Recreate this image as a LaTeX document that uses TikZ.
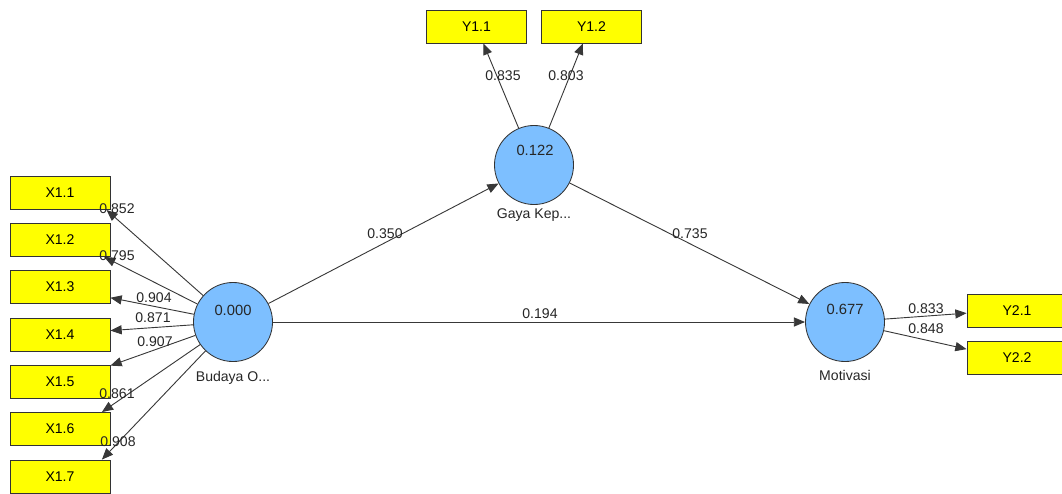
\documentclass[tikz,border=0pt]{standalone}
\usepackage{fontspec}
\setmainfont{Liberation Sans}
\usetikzlibrary{arrows.meta}
\definecolor{lvblue}{RGB}{125,191,255}
\definecolor{mvyellow}{RGB}{255,255,0}

\tikzset{
  mvbox/.style={draw=black!80, line width=0.6pt, fill=mvyellow, minimum width=2.5cm, minimum height=0.825cm, inner sep=0pt, font=\fontsize{10}{12}\selectfont},
  lvcirc/.style={circle, draw=black!80, line width=0.6pt, fill=lvblue, minimum size=1.975cm, inner sep=0pt},
  arr/.style={draw=black!78, line width=0.65pt, -{Triangle[length=8pt,width=6.5pt]}},
  val/.style={font=\fontsize{10}{12}\selectfont, text=black!85, inner sep=0pt},
  r2val/.style={font=\fontsize{10.5}{12}\selectfont, text=black!85, inner sep=0pt},
}

\begin{document}
\begin{tikzpicture}[x=0.025cm, y=-0.025cm]
\clip (0,0) rectangle (1062,493);

% latent variables
\node[lvcirc] (budaya) at (233,322) {};
\node[lvcirc] (gaya) at (534,165) {};
\node[lvcirc] (motivasi) at (845,322) {};

\node[r2val] (r2budaya) at (233,310) {0.000};
\node[r2val] (r2gaya) at (535,150) {0.122};
\node[r2val] (r2motivasi) at (845,309) {0.677};

\node[val] (nbudaya) at (233,378) {Budaya O...};
\node[val] (ngaya) at (534,215) {Gaya Kep...};
\node[val] (nmotivasi) at (845,375) {Motivasi};

% indicators
\node[mvbox] (x11) at (60,193) {X1.1};
\node[mvbox] (x12) at (60,240) {X1.2};
\node[mvbox] (x13) at (60,287) {X1.3};
\node[mvbox] (x14) at (60,335) {X1.4};
\node[mvbox] (x15) at (60,382) {X1.5};
\node[mvbox] (x16) at (60,429) {X1.6};
\node[mvbox] (x17) at (60,476.5) {X1.7};

\node[mvbox] (y11) at (476.5,26.5) {Y1.1};
\node[mvbox] (y12) at (591.5,26.5) {Y1.2};

\node[mvbox] (y21) at (1017,310.5) {Y2.1};
\node[mvbox] (y22) at (1017,358) {Y2.2};

% outer loadings
\draw[arr] (budaya) -- (x11.-20);
\draw[arr] (budaya) -- (x12.-21);
\draw[arr] (budaya) -- (x13.-12);
\draw[arr] (budaya) -- (x14.5);
\draw[arr] (budaya) -- (x15.18);
\draw[arr] (budaya) -- (x16.22);
\draw[arr] (budaya) -- (x17.22);

\draw[arr] (gaya) -- (y11.-68);
\draw[arr] (gaya) -- (y12.-117);

\draw[arr] (motivasi) -- (y21.183);
\draw[arr] (motivasi) -- (y22.170);

% path coefficients
\draw[arr] (budaya) -- (gaya);
\draw[arr] (budaya) -- (motivasi);
\draw[arr] (gaya) -- (motivasi);

\node[val] (l11) at (117,209) {0.852};
\node[val] (l12) at (117,256) {0.795};
\node[val] (l13) at (154,298) {0.904};
\node[val] (l14) at (153,318) {0.871};
\node[val] (l15) at (155,342) {0.907};
\node[val] (l16) at (117,394) {0.861};
\node[val] (l17) at (118,442) {0.908};

\node[val] (m11) at (503,76) {0.835};
\node[val] (m12) at (566,76) {0.803};
\node[val] (m21) at (926,309) {0.833};
\node[val] (m22) at (926,329) {0.848};

\node[val] (pbg) at (385,234) {0.350};
\node[val] (pbm) at (540,314) {0.194};
\node[val] (pgm) at (690,234) {0.735};

\end{tikzpicture}
\end{document}
